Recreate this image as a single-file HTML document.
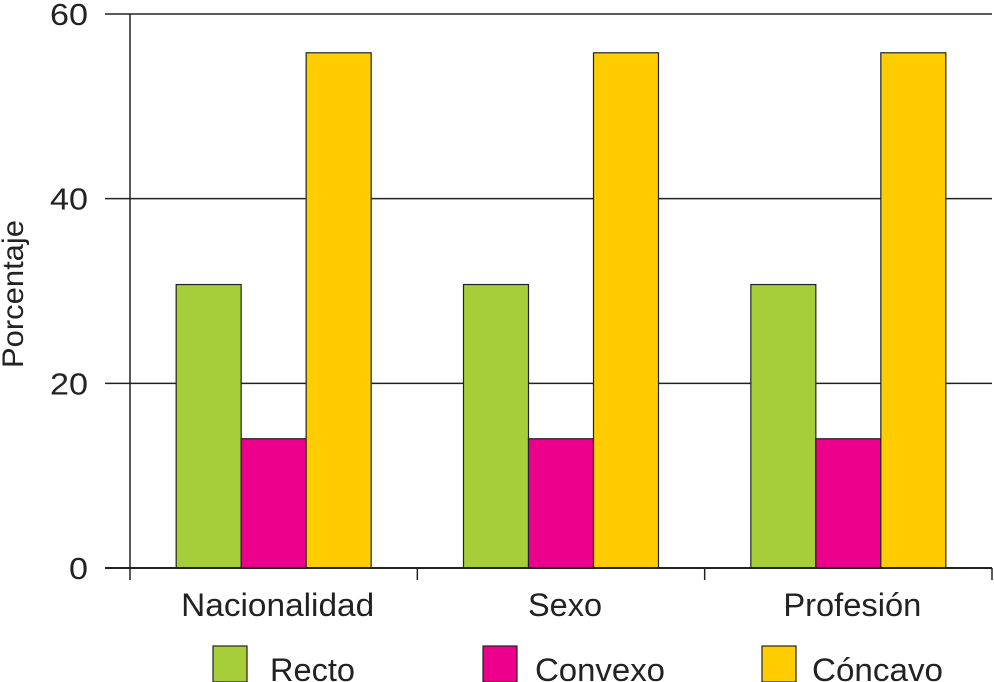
<!DOCTYPE html>
<html><head><meta charset="utf-8"><style>
html,body{margin:0;padding:0;background:#fff;}
svg{display:block;font-family:"Liberation Sans",sans-serif;}
</style></head><body>
<svg id="chart" width="994" height="682" viewBox="0 0 994 682">
<g id="grid"></g><g id="bars"></g><g id="axes"></g><g id="legend"></g>
</svg>
<script>
const categories=["Nacionalidad","Sexo","Profesión"];
const seriesNames=["Recto","Convexo","Cóncavo"];
const recto=[30.7,30.7,30.7];
const convexo=[14,14,14];
const concavo=[55.8,55.8,55.8];
const yTicks=[0,20,40,60];
const colors=["#a6ce39","#ec008c","#ffcc00"];
const NS="http://www.w3.org/2000/svg";
const x0=130,x1=992,y0=568,y60=14;
const ys=v=>y0-(v/60)*(y0-y60);
const catW=(x1-x0)/categories.length;
const barW=65;
function mk(t,a,p){const e=document.createElementNS(NS,t);for(const k in a)e.setAttribute(k,a[k]);p.appendChild(e);return e;}
const grid=document.getElementById('grid'),bars=document.getElementById('bars'),axes=document.getElementById('axes'),legend=document.getElementById('legend');
const catLen=[193,74,138];
yTicks.forEach(t=>{
 if(t>0){const l=mk('line',{x1:105,x2:x1,y1:ys(t),y2:ys(t),stroke:'#222','stroke-width':1.5},grid);
 }
 const s=String(t);
 const tx=mk('text',{x:88,y:ys(t)+11,'text-anchor':'end','font-size':31,fill:'#222',textLength:s.length*19,lengthAdjust:'spacingAndGlyphs'},axes);
 tx.textContent=s;
 
 
});
const series=[recto,convexo,concavo];
categories.forEach((c,i)=>{
 const cx=x0+catW*(i+0.5);
 series.forEach((s,j)=>{
  const bx=cx-1.5*barW+j*barW;
  const r=mk('rect',{x:bx,y:ys(s[i]),width:barW,height:y0-ys(s[i]),fill:colors[j],stroke:'#222','stroke-width':1.2},bars);
  
  
 });
 const lab=mk('text',{x:cx+4,y:616,'text-anchor':'middle','font-size':32,fill:'#222',textLength:catLen[i],lengthAdjust:'spacingAndGlyphs'},axes);
 lab.textContent=c;
 
 
});
const ya=mk('line',{x1:x0,x2:x0,y1:y60,y2:y0,stroke:'#222','stroke-width':1.5},axes);

const xa=mk('line',{x1:105,x2:x1,y1:y0,y2:y0,stroke:'#222','stroke-width':2},axes);

for(let i=0;i<=categories.length;i++){
 const tk=mk('line',{x1:x0+catW*i,x2:x0+catW*i,y1:y0,y2:580,stroke:'#222','stroke-width':1.5},axes);
 
}
const yt=mk('text',{x:0,y:0,'text-anchor':'middle','font-size':30,fill:'#222',textLength:148,lengthAdjust:'spacingAndGlyphs',transform:'translate(23,294) rotate(-90)'},axes);
yt.textContent='Porcentaje';


const legX=[213,483,762],legTX=[270,535,812],legLen=[85,130,131];
seriesNames.forEach((n,j)=>{
 const b=mk('rect',{x:legX[j],y:646,width:34,height:36,fill:colors[j],stroke:'#222','stroke-width':1.2},legend);
 
 
 const t=mk('text',{x:legTX[j],y:681,'font-size':32,fill:'#222',textLength:legLen[j],lengthAdjust:'spacingAndGlyphs'},legend);
 t.textContent=n;
 
 
});
</script>
</body></html>
